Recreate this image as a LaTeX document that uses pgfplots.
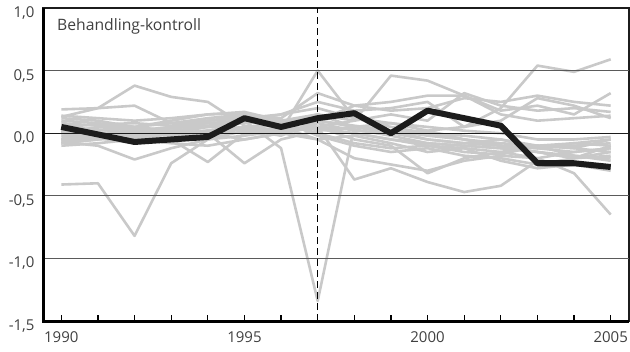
\documentclass[border=0pt]{standalone}
\usepackage{fontspec}
\setmainfont{Open Sans}
\usepackage{pgfplots}
\usepackage{pgfplotstable}
\pgfplotsset{compat=1.18}
\definecolor{gline}{HTML}{C9C9C9}
\definecolor{gridc}{HTML}{5A5A5A}
\definecolor{txt}{HTML}{404040}
\definecolor{bk}{HTML}{1C1C1C}

\pgfplotstableread{
year g1 g2 g3 g4 g5 g6 g7 g8 g9 g10 g11 g12 g13 g14 g15 g16 g17 g18 g19 g20 g21 g22 bk
1990 -0.41 0.13 0.19 0.02 -0.05 -0.08 0.00 -0.05 0.05 0.10 0.08 -0.03 -0.07 0.12 -0.10 0.00 -0.06 0.05 -0.02 0.02 -0.08 0.14 0.05
1991 -0.40 0.20 0.20 0.00 -0.02 -0.05 0.05 -0.03 0.03 0.08 0.06 -0.02 -0.10 0.10 -0.08 0.02 -0.04 0.07 0.00 -0.02 -0.05 0.12 -0.01
1992 -0.82 0.38 0.22 -0.02 0.03 -0.03 0.02 0.00 0.00 0.05 0.04 0.00 -0.21 0.05 -0.05 0.05 -0.08 0.08 0.02 -0.05 0.00 0.10 -0.07
1993 -0.24 0.29 0.08 0.05 0.00 0.00 0.04 0.05 -0.02 0.02 0.02 -0.05 -0.12 0.08 0.00 0.10 -0.05 0.06 0.05 -0.08 0.02 0.12 -0.05
1994 -0.05 0.25 0.10 0.08 0.02 0.02 0.06 0.08 0.02 0.00 0.00 -0.23 -0.05 0.12 0.05 0.15 0.02 0.10 0.10 -0.10 0.05 0.15 -0.03
1995 0.02 0.06 0.12 0.10 0.03 0.05 0.10 0.10 0.05 -0.05 -0.24 0.00 -0.02 0.15 0.08 0.16 0.00 0.12 0.14 -0.05 0.03 0.17 0.12
1996 0.00 0.02 0.05 -0.12 0.02 0.08 0.15 0.05 0.00 0.00 -0.05 0.05 0.02 0.12 0.10 0.08 0.10 0.15 0.05 0.00 -0.02 0.10 0.05
1997 0.05 0.04 0.10 -1.34 0.50 0.15 0.25 0.10 -0.05 0.05 0.02 0.03 0.05 0.32 0.05 0.00 -0.02 0.20 -0.05 0.08 0.10 0.15 0.12
1998 0.03 0.00 0.06 0.05 0.12 0.10 0.18 0.22 -0.20 -0.37 0.05 0.00 -0.05 0.22 0.10 -0.08 -0.10 0.12 -0.02 0.02 0.05 0.05 0.16
1999 -0.02 -0.05 0.02 0.08 0.05 0.46 0.20 0.25 -0.25 -0.28 0.02 -0.05 -0.10 0.18 0.15 -0.12 -0.15 0.08 -0.08 0.00 0.00 0.02 0.00
2000 -0.08 -0.10 0.00 0.02 0.00 0.42 0.25 0.30 -0.30 -0.39 -0.02 -0.08 -0.32 0.20 0.10 -0.10 -0.12 0.05 -0.15 -0.05 0.02 -0.05 0.18
2001 -0.10 -0.12 -0.05 -0.05 -0.02 0.30 0.05 0.30 -0.22 -0.47 -0.05 -0.10 -0.20 0.28 0.32 -0.15 -0.18 0.02 -0.12 -0.08 0.05 -0.08 0.12
2002 -0.12 -0.15 -0.08 -0.10 -0.05 0.15 0.20 0.18 -0.18 -0.42 -0.10 -0.12 -0.15 0.25 0.22 -0.17 -0.20 0.00 -0.22 -0.05 0.10 -0.10 0.06
2003 -0.15 -0.20 -0.10 -0.12 -0.10 0.10 0.54 0.22 -0.20 -0.22 -0.12 -0.15 -0.10 0.30 0.18 -0.10 -0.25 -0.05 -0.28 -0.12 0.28 -0.15 -0.24
2004 -0.18 -0.15 -0.12 -0.08 -0.08 0.12 0.49 0.15 -0.32 -0.25 -0.15 -0.20 -0.18 0.25 0.20 -0.12 -0.20 -0.05 -0.25 -0.10 0.22 -0.20 -0.24
2005 -0.20 -0.12 -0.15 -0.10 -0.05 0.14 0.59 0.32 -0.65 -0.28 -0.12 -0.18 -0.22 0.22 0.17 -0.05 -0.15 -0.03 -0.30 -0.08 0.12 -0.10 -0.27
}\data

\begin{document}
\begin{tikzpicture}
\begin{axis}[
  scale only axis, width=586pt, height=313pt,
  xmin=1989.5, xmax=2005.5, ymin=-1.5, ymax=1.0,
  xtick={1990,1995,2000,2005},
  minor xtick={1991,1992,1993,1994,1996,1997,1998,1999,2001,2002,2003,2004},
  ytick={-1.5,-1,-0.5,0,0.5,1},
  /pgf/number format/assume math mode=true,
  x tick label style={/pgf/number format/1000 sep={}, yshift=-7pt},
  y tick label style={/pgf/number format/.cd, use comma, fixed, fixed zerofill, precision=1, /tikz/.cd, xshift=-5pt, yshift=-5pt},
  tick label style={font=\fontsize{15}{15}\selectfont, text=txt},
  tick pos=bottom,
  tick align=inside,
  major tick length=6pt, minor tick length=6pt,
  xtick style={black, line width=1.3pt},
  minor tick style={black, line width=1.3pt},
  ytick style={draw=none},
  axis line style={draw=bk, line width=1.2pt},
  clip=false,
]
\pgfplotsinvokeforeach{1,...,22}{
  \addplot[gline, line width=2.6pt, line join=round, no markers] table[x=year, y=g#1]{\data};
}
\draw[gridc, line width=1.3pt] (axis cs:1989.5,0.5) -- (axis cs:2005.5,0.5);
\draw[bk, line width=1.3pt] (axis cs:1989.5,0) -- (axis cs:2005.5,0);
\draw[gridc, line width=1.3pt] (axis cs:1989.5,-0.5) -- (axis cs:2005.5,-0.5);
\draw[gridc, line width=1.3pt] (axis cs:1989.5,-1) -- (axis cs:2005.5,-1);
\draw[black, line width=1.2pt, dash pattern=on 7pt off 4pt] (axis cs:1997,-1.5) -- (axis cs:1997,1.0);
\addplot[bk, line width=6pt, line join=round, no markers] table[x=year, y=bk]{\data};
\draw[black, line width=3pt] (rel axis cs:0,1) -- (rel axis cs:0,0) -- (rel axis cs:1,0);
\node[anchor=west, text=txt, font=\fontsize{15.7}{16}\selectfont, inner sep=0pt] at (rel axis cs:0,1) [xshift=14pt, yshift=-18pt] {Behandling-kontroll};
\end{axis}
\pgfresetboundingbox
\path ([shift={(-43pt,-30pt)}]current axis.south west) rectangle ([shift={(1pt,8pt)}]current axis.north east);
\end{tikzpicture}
\end{document}
